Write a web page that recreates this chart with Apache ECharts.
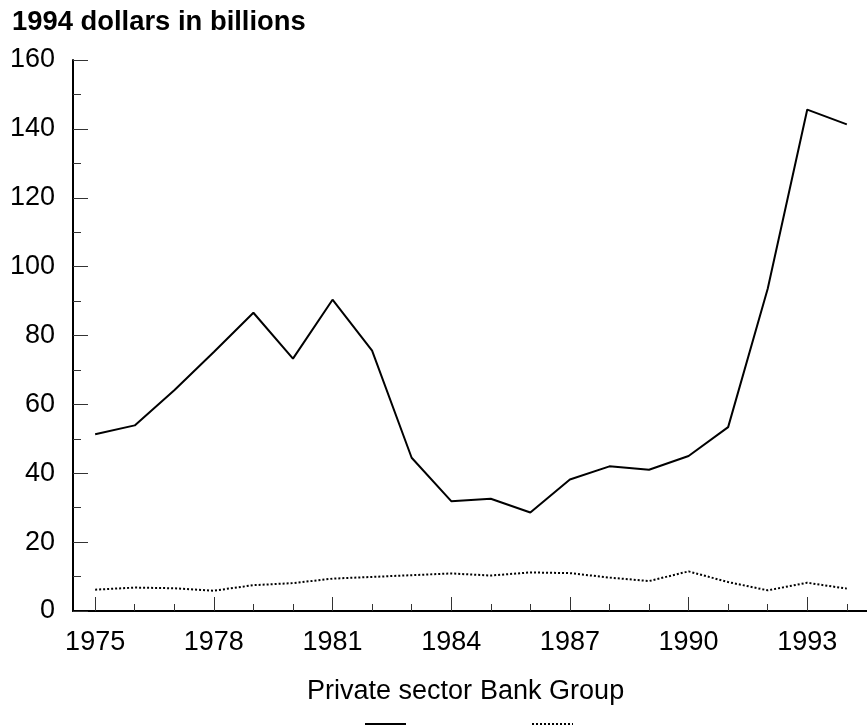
<!DOCTYPE html>
<html>
<head>
<meta charset="utf-8">
<script src="https://cdn.jsdelivr.net/npm/echarts@6/dist/echarts.min.js"></script>
<style>html,body{margin:0;padding:0;background:#fff;}#c{width:867px;height:726px;}</style>
</head>
<body>
<div id="c"></div>
<script>
const years = [1975,1976,1977,1978,1979,1980,1981,1982,1983,1984,1985,1986,1987,1988,1989,1990,1991,1992,1993,1994];
const privateSector = [51.3,53.9,64.1,75.2,86.6,73.3,90.4,75.6,44.5,31.9,32.6,28.6,38.2,42.0,41.0,45.0,53.4,93.6,145.6,141.3];
const bankGroup = [6.2,6.8,6.6,5.9,7.5,8.1,9.4,9.9,10.4,10.9,10.3,11.2,11.0,9.7,8.7,11.5,8.4,6.0,8.2,6.5];
const xLabelYears = [1975,1978,1981,1984,1987,1990,1993];
const seriesNames = ['Private sector','Bank Group'];
const titleText = '1994 dollars in billions';

const FONT = 'Liberation Sans, Arial, Helvetica, sans-serif';
const chart = echarts.init(document.getElementById('c'), null, {renderer:'canvas'});
const pairs = (vals) => years.map((y,i)=>[y, vals[i]]);
chart.setOption({
  animation: false,
  backgroundColor: '#fff',
  title: {
    text: titleText, left: 12, top: 9, padding: 0,
    textStyle: {fontFamily: FONT, fontWeight: 'bold', fontSize: 27.4, color: '#000'}
  },
  grid: {left: 73, right: 0, top: 60, bottom: 115, containLabel: false},
  legend: [
    {
      data: seriesNames, left: 302, top: 678, padding: 0, itemWidth: 0, itemHeight: 0, itemGap: 3,
      icon: 'rect', selectedMode: false,
      textStyle: {fontFamily: FONT, fontSize: 27, color: '#000'}
    },
    {
      data: seriesNames, left: 364, top: 717, padding: 0, itemWidth: 41, itemHeight: 14, itemGap: 124,
      selectedMode: false, formatter: () => '',
      itemStyle: {opacity: 0, borderWidth: 0},
      textStyle: {fontSize: 1}
    }
  ],
  xAxis: [
    {
      type: 'value', min: 1974.44, max: 1994.51,
      axisLine: {show: true, lineStyle: {color: '#000', width: 2}},
      axisTick: {show: true, inside: true, length: 14, customValues: xLabelYears, lineStyle: {color: '#333', width: 1}},
      axisLabel: {show: true, customValues: xLabelYears, margin: 18, fontFamily: FONT, fontSize: 27, color: '#000', formatter: v => String(v)},
      splitLine: {show: false}
    },
    {
      type: 'value', min: 1974.44, max: 1994.51, position: 'bottom',
      axisLine: {show: false},
      axisTick: {show: true, inside: true, length: 7, customValues: years, lineStyle: {color: '#333', width: 1}},
      axisLabel: {show: false},
      splitLine: {show: false}
    }
  ],
  yAxis: {
    type: 'value', min: 0, max: 160, interval: 20,
    axisLine: {show: true, lineStyle: {color: '#000', width: 2}},
    axisTick: {show: true, inside: true, length: 15, lineStyle: {color: '#333', width: 1}},
    minorTick: {show: true, splitNumber: 2, length: 8, lineStyle: {color: '#333', width: 1}},
    axisLabel: {margin: 18, fontFamily: FONT, fontSize: 27, color: '#000'},
    splitLine: {show: false}
  },
  series: [
    {
      name: seriesNames[0], type: 'line', data: pairs(privateSector), symbol: 'none',
      lineStyle: {color: '#000', width: 2, type: 'solid'}, itemStyle: {color: '#000'}
    },
    {
      name: seriesNames[1], type: 'line', data: pairs(bankGroup), symbol: 'none',
      lineStyle: {color: '#000', width: 2, type: [2, 2]}, itemStyle: {color: '#000'}
    }
  ]
});
</script>
</body>
</html>
